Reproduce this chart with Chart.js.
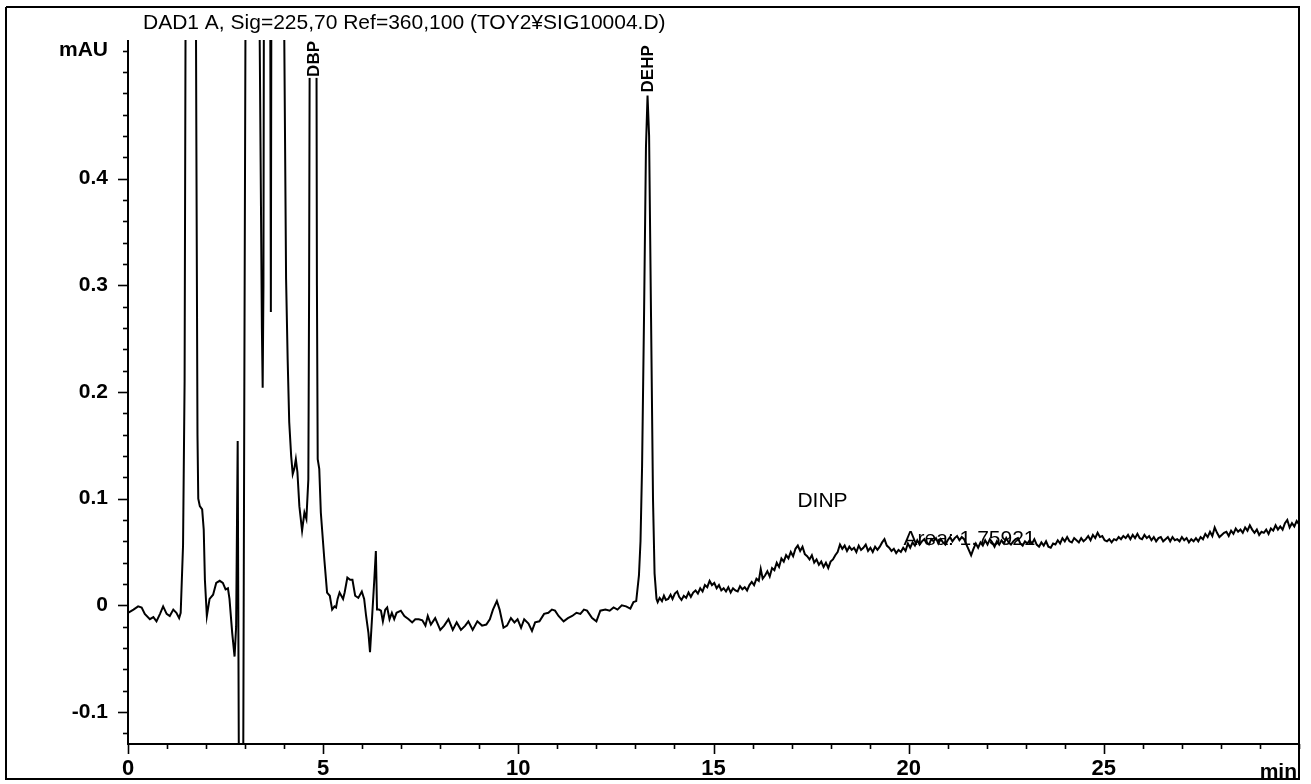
<!DOCTYPE html>
<html>
<head>
<meta charset="utf-8">
<script src="https://cdn.jsdelivr.net/npm/chart.js@4.4.1/dist/chart.umd.min.js"></script>
<style>
  html, body { margin: 0; padding: 0; background: #fff; }
  #wrap { position: relative; width: 1311px; height: 784px; }
</style>
</head>
<body>
<div id="wrap"><canvas id="chrom" width="1311" height="784"></canvas></div>
<script>
// DAD1 A signal trace (time in min, absorbance in mAU)
const signalTitle = 'DAD1 A, Sig=225,70 Ref=360,100 (TOY2¥SIG10004.D)';

const retentionTime = [
  0.00, 0.14, 0.26, 0.35, 0.43, 0.56, 0.65, 0.73, 0.82, 0.90, 0.99, 1.07, 1.16, 1.24, 1.31, 1.35,
  1.41, 1.45, 1.50, 1.60, 1.70, 1.75, 1.78, 1.80, 1.84, 1.90, 1.94, 1.97, 2.02, 2.09, 2.18, 2.26,
  2.35, 2.43, 2.50, 2.56, 2.60, 2.67, 2.73, 2.77, 2.81, 2.84, 2.90, 2.94, 2.98, 3.04, 3.15, 3.30,
  3.36, 3.43, 3.45, 3.47, 3.50, 3.56, 3.62, 3.66, 3.70, 3.80, 3.93, 4.00, 4.05, 4.09, 4.13, 4.18,
  4.22, 4.26, 4.30, 4.34, 4.39, 4.46, 4.52, 4.57, 4.62, 4.64, 4.68, 4.75, 4.81, 4.84, 4.86, 4.90,
  4.94, 5.03, 5.10, 5.17, 5.23, 5.29, 5.33, 5.37, 5.42, 5.51, 5.55, 5.62, 5.69, 5.75, 5.82, 5.90,
  5.99, 6.05, 6.10, 6.16, 6.20, 6.25, 6.31, 6.35, 6.38, 6.43, 6.48, 6.53, 6.59, 6.64, 6.70, 6.76,
  6.82, 6.88, 6.99, 7.08, 7.19, 7.28, 7.36, 7.45, 7.54, 7.62, 7.68, 7.76, 7.87, 8.00, 8.10, 8.21,
  8.32, 8.42, 8.53, 8.64, 8.72, 8.83, 8.95, 9.07, 9.18, 9.27, 9.35, 9.45, 9.52, 9.62, 9.71, 9.81,
  9.90, 9.98, 10.07, 10.15, 10.26, 10.35, 10.43, 10.54, 10.66, 10.77, 10.86, 10.94, 11.03, 11.16, 11.27, 11.38,
  11.49, 11.59, 11.68, 11.76, 11.89, 12.00, 12.10, 12.23, 12.34, 12.44, 12.54, 12.65, 12.76, 12.87, 12.95, 13.02,
  13.09, 13.13, 13.17, 13.22, 13.27, 13.31, 13.35, 13.40, 13.45, 13.49, 13.54,
  13.57, 13.62, 13.68, 13.73, 13.78, 13.84, 13.90, 13.95, 14.01, 14.07, 14.12, 14.18, 14.24, 14.30, 14.36, 14.42,
  14.48, 14.54, 14.60, 14.66, 14.72, 14.78, 14.84, 14.90, 14.96, 15.02, 15.08, 15.14, 15.20, 15.26, 15.32, 15.38,
  15.44, 15.50, 15.56, 15.62, 15.68, 15.74, 15.80, 15.86, 15.92, 15.98, 16.04, 16.10, 16.16, 16.21, 16.26, 16.32,
  16.38, 16.44, 16.50, 16.56, 16.62, 16.68, 16.74, 16.80, 16.86, 16.92, 16.98, 17.04, 17.10, 17.16, 17.22, 17.28,
  17.34, 17.40, 17.46, 17.52, 17.58, 17.64, 17.70, 17.76, 17.82, 17.88, 17.94, 18.00, 18.06, 18.12, 18.18, 18.24,
  18.30, 18.36, 18.42, 18.48, 18.54, 18.60, 18.66, 18.72, 18.78, 18.84, 18.90, 18.96, 19.02, 19.08, 19.14, 19.20,
  19.26, 19.32, 19.38, 19.44, 19.50, 19.56, 19.62, 19.68, 19.74, 19.80, 19.86, 19.92, 19.98, 20.04, 20.10, 20.16,
  20.22, 20.28, 20.34, 20.40, 20.46, 20.52, 20.58, 20.64, 20.70, 20.76, 20.82, 20.88, 20.94, 21.00, 21.06, 21.12,
  21.18, 21.24, 21.30, 21.36, 21.42, 21.48, 21.54, 21.60, 21.66, 21.72, 21.78, 21.84, 21.90, 21.96, 22.02, 22.08,
  22.14, 22.20, 22.26, 22.32, 22.38, 22.44, 22.50, 22.56, 22.62, 22.68, 22.74, 22.80, 22.86, 22.92, 22.98, 23.04,
  23.10, 23.16, 23.22, 23.28, 23.34, 23.40, 23.46, 23.52, 23.58, 23.64, 23.70, 23.76, 23.82, 23.88, 23.94, 24.00,
  24.06, 24.12, 24.18, 24.24, 24.30, 24.36, 24.42, 24.48, 24.54, 24.60, 24.66, 24.72, 24.78, 24.84, 24.90, 24.96,
  25.02, 25.08, 25.14, 25.20, 25.26, 25.32, 25.38, 25.44, 25.50, 25.56, 25.62, 25.68, 25.74, 25.80, 25.86, 25.92,
  25.98, 26.04, 26.10, 26.16, 26.22, 26.28, 26.34, 26.40, 26.46, 26.52, 26.58, 26.64, 26.70, 26.76, 26.82, 26.88,
  26.94, 27.00, 27.06, 27.12, 27.18, 27.24, 27.30, 27.36, 27.42, 27.48, 27.54, 27.60, 27.66, 27.72, 27.78, 27.84,
  27.90, 27.96, 28.02, 28.08, 28.14, 28.20, 28.26, 28.32, 28.38, 28.44, 28.50, 28.56, 28.62, 28.68, 28.74, 28.80,
  28.86, 28.92, 28.98, 29.04, 29.10, 29.16, 29.22, 29.28, 29.34, 29.40, 29.46, 29.52, 29.58, 29.64, 29.70, 29.76,
  29.82, 29.88, 29.94, 30.00
];

const absorbance = [
  -0.007, -0.004, -0.001, -0.002, -0.008, -0.013, -0.011, -0.015, -0.008, -0.001, -0.008, -0.010, -0.004, -0.007, -0.012, -0.007,
  0.056, 0.210, 0.900, 1.800, 1.000, 0.450, 0.160, 0.100, 0.093, 0.090, 0.071, 0.024, -0.010, 0.006, 0.010, 0.021,
  0.023, 0.021, 0.015, 0.016, 0.006, -0.026, -0.048, -0.020, 0.154, -0.150, -0.600, -0.300, 0.200, 0.900, 2.500, 1.500,
  0.600, 0.260, 0.204, 0.300, 1.000, 1.600, 1.000, 0.275, 1.200, 2.200, 1.300, 0.550, 0.306, 0.231, 0.172, 0.140,
  0.123, 0.128, 0.137, 0.125, 0.093, 0.070, 0.087, 0.081, 0.118, 0.300, 0.900, 1.400, 0.900, 0.300, 0.137, 0.128,
  0.087, 0.043, 0.012, 0.009, -0.004, -0.001, -0.002, 0.006, 0.012, 0.006, 0.012, 0.026, 0.024, 0.024, 0.009, 0.007,
  0.013, 0.006, -0.010, -0.026, -0.044, -0.013, 0.024, 0.051, -0.004, -0.004, -0.005, -0.015, -0.004, -0.002, -0.013, -0.007,
  -0.013, -0.007, -0.005, -0.010, -0.013, -0.016, -0.013, -0.013, -0.014, -0.019, -0.010, -0.018, -0.012, -0.023, -0.019, -0.013,
  -0.023, -0.016, -0.023, -0.019, -0.015, -0.023, -0.015, -0.019, -0.018, -0.013, -0.004, 0.004, -0.004, -0.021, -0.019, -0.012,
  -0.016, -0.013, -0.021, -0.013, -0.017, -0.024, -0.016, -0.015, -0.008, -0.007, -0.004, -0.005, -0.010, -0.015, -0.012, -0.010,
  -0.007, -0.008, -0.004, -0.005, -0.012, -0.015, -0.005, -0.004, -0.005, -0.002, -0.004, 0.000, -0.001, -0.003, 0.003, 0.004,
  0.028, 0.060, 0.130, 0.270, 0.430, 0.478, 0.440, 0.270, 0.100, 0.030, 0.006,
  0.003, 0.007, 0.004, 0.009, 0.005, 0.006, 0.010, 0.006, 0.011, 0.013, 0.008, 0.005, 0.009, 0.007, 0.012, 0.008,
  0.012, 0.014, 0.011, 0.016, 0.013, 0.019, 0.017, 0.023, 0.019, 0.021, 0.016, 0.019, 0.014, 0.016, 0.013, 0.017,
  0.012, 0.016, 0.014, 0.013, 0.018, 0.015, 0.017, 0.014, 0.019, 0.022, 0.019, 0.025, 0.023, 0.034, 0.025, 0.028,
  0.032, 0.027, 0.035, 0.033, 0.040, 0.036, 0.044, 0.041, 0.047, 0.044, 0.050, 0.046, 0.053, 0.056, 0.051, 0.055,
  0.048, 0.046, 0.043, 0.047, 0.040, 0.043, 0.038, 0.041, 0.036, 0.040, 0.035, 0.041, 0.043, 0.047, 0.050, 0.057,
  0.053, 0.056, 0.051, 0.055, 0.052, 0.054, 0.050, 0.056, 0.052, 0.054, 0.057, 0.051, 0.054, 0.050, 0.055, 0.052,
  0.055, 0.059, 0.062, 0.056, 0.054, 0.051, 0.053, 0.049, 0.052, 0.050, 0.054, 0.051, 0.058, 0.054, 0.059, 0.056,
  0.061, 0.057, 0.060, 0.062, 0.058, 0.057, 0.062, 0.060, 0.063, 0.058, 0.062, 0.059, 0.057, 0.061, 0.064, 0.060,
  0.063, 0.065, 0.061, 0.064, 0.062, 0.057, 0.052, 0.047, 0.053, 0.058, 0.054, 0.059, 0.056, 0.061, 0.057, 0.062,
  0.059, 0.055, 0.060, 0.057, 0.061, 0.058, 0.063, 0.059, 0.057, 0.060, 0.062, 0.063, 0.058, 0.056, 0.060, 0.058,
  0.061, 0.058, 0.062, 0.057, 0.055, 0.059, 0.056, 0.060, 0.055, 0.054, 0.058, 0.057, 0.061, 0.058, 0.063, 0.060,
  0.064, 0.060, 0.059, 0.063, 0.061, 0.059, 0.063, 0.060, 0.062, 0.065, 0.061, 0.066, 0.063, 0.068, 0.064, 0.065,
  0.061, 0.060, 0.062, 0.059, 0.062, 0.061, 0.064, 0.062, 0.065, 0.063, 0.066, 0.062, 0.066, 0.063, 0.067, 0.063,
  0.062, 0.066, 0.063, 0.065, 0.061, 0.064, 0.060, 0.063, 0.064, 0.060, 0.062, 0.064, 0.060, 0.064, 0.061, 0.062,
  0.060, 0.064, 0.061, 0.063, 0.059, 0.062, 0.060, 0.063, 0.060, 0.064, 0.062, 0.067, 0.064, 0.069, 0.065, 0.073,
  0.068, 0.064, 0.066, 0.068, 0.069, 0.065, 0.070, 0.067, 0.072, 0.069, 0.071, 0.068, 0.073, 0.070, 0.075, 0.071,
  0.068, 0.071, 0.066, 0.069, 0.068, 0.071, 0.067, 0.072, 0.070, 0.075, 0.071, 0.074, 0.071, 0.077, 0.080, 0.073,
  0.077, 0.074, 0.079, 0.076
];

// Axis ranges, tick spacing and labelled ticks
const timeRange = [0, 30];
const timeTickStep = 1;
const timeLabels = [0, 5, 10, 15, 20, 25];
const timeUnit = 'min';
const signalRange = [-0.13, 0.53];
const signalTickStep = 0.02;
const signalLabels = [-0.1, 0, 0.1, 0.2, 0.3, 0.4];
const signalUnitTick = 0.52;
const signalUnit = 'mAU';

// Named peaks (rotated labels) and free annotations
const peakNames = ['DBP', 'DEHP'];
const peakTimes = [4.75, 13.31];
const noteTexts = ['DINP', 'Area: 1.75921'];
const noteTimes = [17.15, 19.87];
const noteSignals = [0.098, 0.062];

const FONT = "'Liberation Sans', Arial, sans-serif";

const tracePoints = retentionTime.map((t, i) => ({ x: t, y: absorbance[i] }));

// evenly spaced tick values that fall inside a range
function stepTicks(range, step) {
  const out = [];
  const k0 = Math.ceil(range[0] / step - 1e-9), k1 = Math.floor(range[1] / step + 1e-9);
  for (let k = k0; k <= k1; k++) out.push({ value: Math.round(k * step * 1e6) / 1e6 });
  return out;
}
const isIn = (list, v) => list.some(l => Math.abs(l - v) < 1e-6);

const decor = {
  id: 'decor',
  afterDraw(chart) {
    const { ctx, chartArea: a, scales: { x, y } } = chart;
    ctx.save();
    ctx.strokeStyle = '#000';
    ctx.fillStyle = '#000';
    ctx.lineCap = 'butt';

    // outer frame
    ctx.lineWidth = 2;
    ctx.beginPath();
    ctx.moveTo(6, 7); ctx.lineTo(6, 779); ctx.lineTo(a.right, 779); ctx.lineTo(a.right, 7); ctx.lineTo(6, 7);
    ctx.stroke();

    // axis lines
    ctx.lineWidth = 2;
    ctx.beginPath();
    ctx.moveTo(a.left, a.top); ctx.lineTo(a.left, a.bottom); ctx.lineTo(a.right, a.bottom);
    ctx.stroke();

    // ticks: long at labelled values, short otherwise
    ctx.lineWidth = 1.6;
    y.ticks.forEach(tk => {
      const py = Math.round(y.getPixelForValue(tk.value)) + 0.5;
      const len = isIn(signalLabels, tk.value) ? 10 : 5;
      ctx.beginPath(); ctx.moveTo(a.left - len, py); ctx.lineTo(a.left, py); ctx.stroke();
    });
    x.ticks.forEach(tk => {
      const px = Math.round(x.getPixelForValue(tk.value)) + 0.5;
      const len = isIn(timeLabels, tk.value) ? 10 : 5;
      ctx.beginPath(); ctx.moveTo(px, a.bottom); ctx.lineTo(px, a.bottom + len); ctx.stroke();
    });

    // title
    ctx.font = `21px ${FONT}`;
    ctx.textAlign = 'left';
    ctx.textBaseline = 'alphabetic';
    ctx.fillText(signalTitle, 143, 29);

    // x unit at the right end of the axis
    ctx.font = `bold 21px ${FONT}`;
    ctx.textAlign = 'right';
    ctx.fillText(timeUnit, a.right - 2, 778);

    // peak labels, reading upward, sitting on top of each peak
    ctx.font = `bold 17px ${FONT}`;
    peakNames.forEach((name, i) => {
      const t = peakTimes[i];
      let apex = -Infinity;
      retentionTime.forEach((rt, j) => { if (Math.abs(rt - t) < 0.12) apex = Math.max(apex, absorbance[j]); });
      const w = ctx.measureText(name).width;
      const px = x.getPixelForValue(t);
      const base = Math.max(y.getPixelForValue(apex) - 3, a.top + w + 1);
      ctx.save();
      ctx.translate(px, base);
      ctx.rotate(-Math.PI / 2);
      ctx.fillStyle = '#fff';
      ctx.fillRect(-1, -8, w + 2, 16);
      ctx.fillStyle = '#000';
      ctx.textAlign = 'left';
      ctx.textBaseline = 'middle';
      ctx.fillText(name, 0, 1);
      ctx.restore();
    });

    // integration notes
    ctx.font = `21px ${FONT}`;
    ctx.textAlign = 'left';
    ctx.textBaseline = 'middle';
    noteTexts.forEach((txt, i) => {
      ctx.fillText(txt, x.getPixelForValue(noteTimes[i]), y.getPixelForValue(noteSignals[i]));
    });
    ctx.restore();
  }
};

new Chart(document.getElementById('chrom'), {
  type: 'line',
  data: {
    datasets: [{
      data: tracePoints,
      borderColor: '#000',
      borderWidth: 2,
      pointRadius: 0,
      tension: 0,
      fill: false
    }]
  },
  plugins: [decor],
  options: {
    responsive: false,
    animation: false,
    events: [],
    layout: { padding: { left: 0, right: 12, top: 40, bottom: 0 } },
    plugins: { legend: { display: false }, tooltip: { enabled: false } },
    scales: {
      x: {
        type: 'linear',
        min: timeRange[0],
        max: timeRange[1],
        afterFit(s) { s.height = 40; },
        afterBuildTicks(s) { s.ticks = stepTicks(timeRange, timeTickStep); },
        grid: { display: false, drawTicks: false },
        border: { display: false },
        ticks: {
          autoSkip: false,
          maxRotation: 0,
          padding: 12,
          color: '#000',
          font: { family: FONT, size: 22, weight: 'bold' },
          callback: v => isIn(timeLabels, v) ? String(Math.round(v)) : ''
        }
      },
      y: {
        min: signalRange[0],
        max: signalRange[1],
        afterFit(s) { s.width = 128; },
        afterBuildTicks(s) { s.ticks = stepTicks(signalRange, signalTickStep); },
        grid: { display: false, drawTicks: false },
        border: { display: false },
        ticks: {
          autoSkip: false,
          padding: 20,
          color: '#000',
          font: { family: FONT, size: 21, weight: 'bold' },
          callback: v => {
            if (Math.abs(v - signalUnitTick) < 1e-6) return signalUnit;
            if (isIn(signalLabels, v)) return String(Math.round(v * 10) / 10);
            return '';
          }
        }
      }
    }
  }
});
</script>
</body>
</html>
